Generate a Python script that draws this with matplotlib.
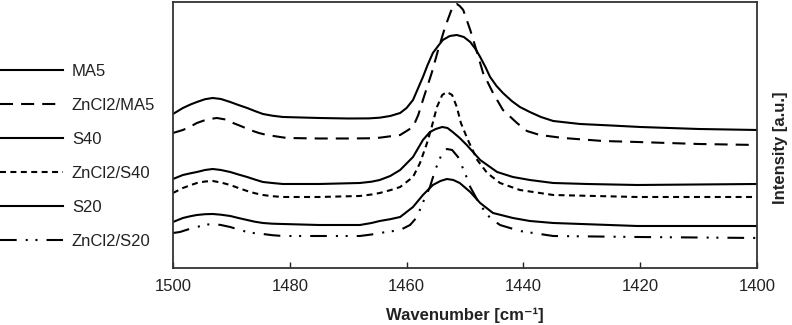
import matplotlib
from matplotlib import pyplot as plt

matplotlib.use('Agg')

plt.rcParams['font.family'] = ['Liberation Sans', 'DejaVu Sans']
plt.rcParams['lines.scale_dashes'] = False

# values, intensity in arbitrary units
ma5_w = [1500, 1498.3, 1497, 1495.9, 1494.5, 1493.2, 1491.8, 1490.2, 1488.8, 1487.3, 1486,
         1484.6, 1483, 1481.2, 1475, 1470, 1466.5, 1464.6, 1462.8, 1461.1, 1460, 1458.9, 1457.2,
         1456.4, 1455.5, 1454.6, 1453.8, 1452.6, 1451.4, 1450.2, 1449.1, 1448.2, 1447.4,
         1446.5, 1445.7, 1444.6, 1443.5, 1442, 1440.6, 1438.9, 1437, 1434.9, 1430.3, 1425,
         1420, 1410, 1400]
ma5_i = [149, 155, 158.5, 161, 163.8, 165, 164, 161, 158, 155, 152,
         149, 147.3, 146, 145, 144.5, 144.6, 145.3, 147, 150, 155, 163, 186,
         198, 210, 217, 223, 227, 228, 226, 221, 214, 206,
         196, 186, 177, 170, 162, 156, 151, 146, 142, 139, 137.5,
         136, 134, 133]

zn_ma5_w = [1500, 1498.3, 1497, 1495.9, 1494.2, 1492.5, 1491, 1489.7, 1488.2, 1486.8, 1485.3,
            1483.9, 1482, 1480.5, 1475, 1470, 1466.5, 1464.6, 1461.1, 1458.9, 1458.0, 1457.2,
            1455.7, 1454.6, 1453.4, 1452.2, 1451.8, 1451.4, 1450.9, 1450.3, 1449.1, 1447.9,
            1446.9, 1445.2, 1443.5, 1441.1, 1439.4, 1437.2, 1433.2, 1426.4, 1420.5, 1410, 1400]
zn_ma5_i = [130, 133, 136.5, 140, 143.5, 145, 143.5, 140, 136.5, 133, 130,
            128, 126.3, 125, 124.5, 124.5, 124.7, 125.3, 128, 136, 148, 163,
            190, 213, 236, 255, 258, 259, 257, 253, 233, 210,
            190, 170, 153, 140, 132, 128, 125, 122, 121, 119, 118]

s40_w = [1500, 1498.3, 1497, 1495.9, 1494.5, 1493.2, 1491.8, 1490.2, 1488.8, 1487.3, 1486,
         1484.6, 1483, 1481.2, 1475, 1468, 1466, 1464.6, 1462.8, 1461.1, 1458.9, 1457.2, 1456.0,
         1455.0, 1453.9, 1453.0, 1452.1, 1450.9, 1449.7, 1447.4, 1444.5, 1441.8, 1438.9,
         1434.9, 1429.1, 1420.5, 1400]
s40_i = [84, 88, 89.7, 91, 93, 94, 93, 91, 88.5, 86, 83.5,
         81, 80, 79, 79, 80, 81.3, 83, 87, 93, 106, 123, 131,
         134, 136, 135, 131, 125, 118, 103, 91, 86, 83,
         80, 79, 78, 79]

zn_s40_w = [1500, 1498.3, 1497, 1495.9, 1494.5, 1493.2, 1491.8, 1490.2, 1488.8, 1487.3, 1486,
            1484.6, 1483, 1481.2, 1475, 1468, 1466, 1464.6, 1462.8, 1461.1, 1458.9, 1457.7,
            1456.5, 1455.7, 1454.8, 1453.9, 1453.1, 1452.2, 1451.4, 1450.7, 1449.5, 1447.9,
            1446.2, 1444.0, 1440.6, 1434.9, 1420.5, 1400]
zn_s40_i = [70, 75, 77.8, 80, 81.5, 82, 80.5, 78, 75, 72, 69.8,
            68, 66.8, 66, 66, 67, 68.5, 70, 72.8, 76, 86, 100,
            120, 136, 156, 168, 171, 168, 156, 140, 123, 103,
            90, 80, 73, 68, 66, 66]

s20_w = [1500, 1498.3, 1497, 1495.9, 1494.5, 1493.2, 1491.8, 1490.2, 1488.8, 1487.3, 1486,
         1484.6, 1483, 1481.2, 1475, 1468, 1466, 1464.6, 1462.8, 1461.1, 1458.9, 1457.2,
         1455.5, 1454.2, 1453.1, 1452.0, 1450.9, 1449.1, 1447.4, 1445.2, 1441.8, 1438.9,
         1434.9, 1420.5, 1400]
s20_i = [41, 45, 46.8, 48, 48.8, 49, 48.3, 47, 45, 43, 41.3,
         40, 39.3, 39, 38, 38, 40, 42, 43.8, 46, 56, 68,
         78, 82, 84, 83, 80, 71, 60, 50, 45, 42,
         40, 37, 37]

zn_s20_w = [1500, 1498.8, 1497.3, 1495.9, 1494.5, 1493.2, 1491.8, 1490.2, 1488.8, 1487.3, 1486,
            1484.6, 1483, 1481.2, 1475, 1468, 1466, 1464.6, 1462.8, 1461.1, 1459.4, 1458.2,
            1457.4, 1456.0, 1455.1, 1453.9, 1453.1, 1452.2, 1451.2, 1450.0, 1449.1, 1447.4,
            1445.7, 1444.0, 1440.6, 1434.9, 1420.5, 1400]
zn_s20_i = [30, 31, 33.8, 36, 38.2, 39, 38, 36, 33.5, 31, 29.8,
            29, 27.8, 27, 27, 27, 28.5, 30, 31.5, 33, 38, 46,
            58, 76, 93, 110, 114, 113, 106, 90, 76, 58,
            45, 38, 32, 27, 26, 25]

x_ticks = [1500, 1480, 1460, 1440, 1420, 1400]

fig = plt.figure(figsize=(7.92, 3.25), dpi=100)
ax = fig.add_axes([0.2184, 0.1754, 0.7374, 0.8185])

style = dict(color='black', lw=1.5, solid_joinstyle='round', dash_joinstyle='round')
ax.plot(ma5_w, ma5_i, label='MA5', **style)
ax.plot(zn_ma5_w, zn_ma5_i, dashes=(9.4, 5.8), label='ZnCl2/MA5', **style)
ax.plot(s40_w, s40_i, label='S40', **style)
ax.plot(zn_s40_w, zn_s40_i, dashes=(4.3, 3.2), label='ZnCl2/S40', **style)
ax.plot(s20_w, s20_i, label='S20', **style)
ax.plot(zn_s20_w, zn_s20_i, dashes=(12, 6.5, 1.5, 5.5, 1.5, 6.5), label='ZnCl2/S20', **style)

ax.set_xlim(1500, 1400)
ax.set_ylim(-5, 261)
ax.set_xticks(x_ticks)
ax.set_yticks([])
ax.tick_params(axis='x', direction='in', length=4, width=1, labelsize=12,
               pad=8, colors='#222222')
for s in ax.spines.values():
    s.set_color('#333333')
    s.set_linewidth(1.3)

ax.set_xlabel('Wavenumber [cm⁻¹]', fontsize=12, fontweight='bold', color='#222222',
              va='center')
ax.xaxis.set_label_coords(0.5, -0.177)
ax.yaxis.set_label_position('right')
ax.set_ylabel('Intensity [a.u.]', fontsize=12, fontweight='bold', color='#222222',
              va='center', ha='center')
ax.yaxis.set_label_coords(1.040, 0.451)

ax.legend(loc='upper left', bbox_to_anchor=(0.0, 0.803), bbox_transform=fig.transFigure,
          frameon=False, handlelength=3.77, handletextpad=0.54, labelspacing=1.14,
          borderpad=0, borderaxespad=0, fontsize=12, labelcolor='#222222')

plt.savefig('out.png', format='png')
